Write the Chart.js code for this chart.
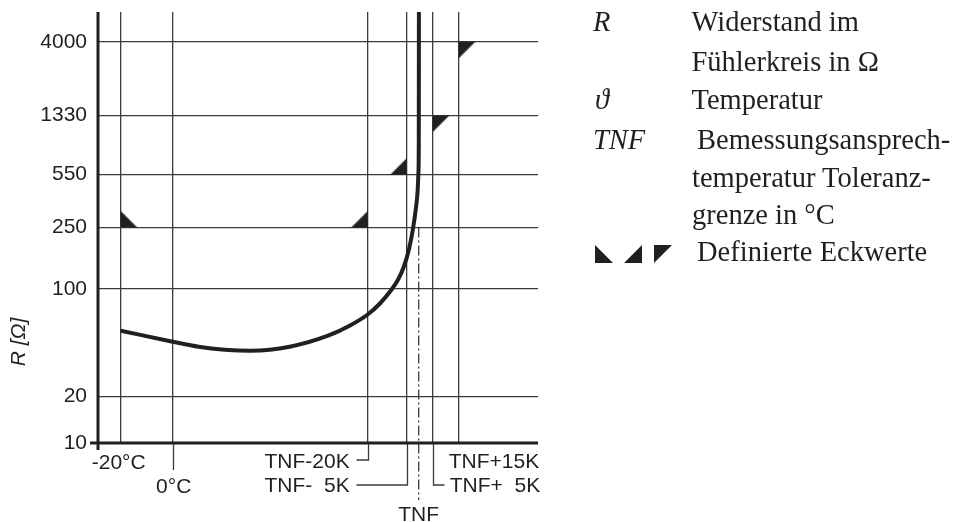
<!DOCTYPE html>
<html>
<head>
<meta charset="utf-8">
<script src="https://cdn.jsdelivr.net/npm/chart.js@4.4.1/dist/chart.umd.min.js"></script>
<style>
  html, body { margin: 0; padding: 0; background: #fff; }
  #wrap { position: relative; width: 953px; height: 522px; overflow: hidden; }
  #chart { position: absolute; left: 0; top: 0; }
  .lg { position: absolute; font-family: 'Liberation Serif', 'Times New Roman', serif; font-size: 28.5px; line-height: 28.5px; color: #231f20; white-space: pre; }
  .it { font-style: italic; }
  .tri { position: absolute; width: 18px; height: 18px; background: #231f20; }
</style>
</head>
<body>
<div id="wrap">
  <canvas id="chart" width="953" height="522"></canvas>
</div>
<script>
// rated response temperature (schematic, in °C)
const TNF = 95;

const xTickValues = [-20, 0, TNF - 20, TNF - 5, TNF, TNF + 5, TNF + 15];
const xTickLabels = ['-20°C', '0°C', 'TNF-20K', 'TNF-  5K', 'TNF', 'TNF+  5K', 'TNF+15K'];
const yTickValues = [10, 20, 100, 250, 550, 1330, 4000];

// characteristic curve
const curveTemp = [-20, 0, 10, 20, 30, 45, 60, 68.2, 75, 79.7, 83.6, 86.7, 89.0, 90.9, 92.4, 93.6, 94.2, 94.5, 94.65, 94.7];
const curveR    = [53.5, 45.4, 42.1, 40.3, 39.7, 42.1, 49.8, 57.8, 68.1, 80.3, 96, 114.9, 140.6, 181.2, 244.2, 339.3, 430, 560, 900, 7000];

// defined corner values
const cornerTemp = [-20, TNF - 20, TNF - 5, TNF + 5, TNF + 15];
const cornerR    = [250, 250, 550, 1330, 4000];
const cornerDir  = ['upRight', 'upLeft', 'upLeft', 'downRight', 'downRight'];

const ink = '#231f20';
const gridInk = '#3a3a3a';
const sans = "'Liberation Sans', Arial, sans-serif";

function makeCorner(dir) {
  const s = 16.5, c = document.createElement('canvas');
  c.width = c.height = 34;
  const g = c.getContext('2d');
  g.fillStyle = ink;
  g.beginPath();
  g.moveTo(17, 17);
  if (dir === 'upRight') { g.lineTo(17, 17 - s); g.lineTo(17 + s, 17); }
  else if (dir === 'upLeft') { g.lineTo(17, 17 - s); g.lineTo(17 - s, 17); }
  else { g.lineTo(17 + s, 17); g.lineTo(17, 17 + s); }
  g.closePath();
  g.fill();
  return c;
}

// where each x label sits below the axis
const xLabelLayout = [
  { drop: 0,  align: 'center', dx: -2, base: 469 },
  { drop: 27, align: 'center', dx: 1,  base: 493 },
  { drop: 17, align: 'right',  dx: -18, base: 468, leader: -12 },
  { drop: 42, align: 'right',  dx: -57, base: 492, leader: -51 },
  { drop: 0,  align: 'center', dx: -1, base: 521 },
  { drop: 42, align: 'left',   dx: 17, base: 492, leader: 11 },
  { drop: 0,  align: 'left',   dx: -10, base: 468 }
];

const sketchPlugin = {
  id: 'sketch',
  afterDraw(chart) {
    const { ctx, chartArea: a, scales: { x, y } } = chart;
    ctx.save();

    // leaders below the axis
    ctx.strokeStyle = gridInk;
    ctx.lineWidth = 1.3;
    xTickValues.forEach((v, i) => {
      const L = xLabelLayout[i];
      const px = Math.round(x.getPixelForValue(v)) + 0.5;
      if (L.drop) {
        ctx.beginPath();
        ctx.moveTo(px, a.bottom);
        ctx.lineTo(px, a.bottom + L.drop);
        if (L.leader) ctx.lineTo(px + L.leader, a.bottom + L.drop);
        ctx.stroke();
      }
    });

    // TNF dash-dot marker
    const pt = x.getPixelForValue(TNF) - 1;
    ctx.setLineDash([10, 3, 2, 3]);
    ctx.beginPath();
    ctx.moveTo(pt, y.getPixelForValue(250));
    ctx.lineTo(pt, 500);
    ctx.stroke();
    ctx.setLineDash([]);

    // axes
    ctx.strokeStyle = ink;
    ctx.lineWidth = 3;
    ctx.beginPath();
    ctx.moveTo(a.left, a.top);
    ctx.lineTo(a.left, a.bottom + 7);
    ctx.moveTo(a.left - 8, a.bottom);
    ctx.lineTo(a.right, a.bottom);
    ctx.stroke();

    // x labels
    ctx.fillStyle = ink;
    ctx.font = '21px ' + sans;
    ctx.textBaseline = 'alphabetic';
    xTickValues.forEach((v, i) => {
      const L = xLabelLayout[i];
      ctx.textAlign = L.align;
      const px = x.getPixelForValue(v);
      ctx.fillText(xTickLabels[i], px + L.dx, L.base);
    });

    // y title
    ctx.translate(19, 342);
    ctx.rotate(-Math.PI / 2);
    ctx.textAlign = 'center';
    ctx.textBaseline = 'middle';
    ctx.font = 'italic 21px ' + sans;
    ctx.fillText('R [Ω]', 0, 0);
    ctx.restore();
  }
};

new Chart(document.getElementById('chart'), {
  type: 'line',
  data: {
    datasets: [
      {
        data: curveTemp.map((t, i) => ({ x: t, y: curveR[i] })),
        borderColor: ink,
        borderWidth: 4,
        borderJoinStyle: 'round',
        pointRadius: 0,
        cubicInterpolationMode: 'monotone',
        fill: false
      },
      {
        type: 'scatter',
        data: cornerTemp.map((t, i) => ({ x: t, y: cornerR[i] })),
        pointStyle: cornerDir.map(makeCorner),
        pointRadius: 10,
        showLine: false
      }
    ]
  },
  options: {
    responsive: false,
    animation: false,
    devicePixelRatio: 1,
    events: [],
    layout: { padding: { left: 0, top: 12, right: 415, bottom: 0 } },
    plugins: { legend: { display: false }, tooltip: { enabled: false } },
    scales: {
      x: {
        type: 'linear',
        min: -28.73,
        max: 140.5,
        afterBuildTicks: s => { s.ticks = xTickValues.map(v => ({ value: v })); },
        afterFit: s => { s.height = 79; s.paddingLeft = 0; s.paddingRight = 0; },
        ticks: { display: false },
        grid: {
          color: c => (c.tick && c.tick.value === TNF) ? 'rgba(0,0,0,0)' : gridInk,
          lineWidth: 1.3,
          drawTicks: false
        },
        border: { display: false }
      },
      y: {
        type: 'logarithmic',
        min: 10,
        max: 6240,
        afterBuildTicks: s => { s.ticks = yTickValues.map(v => ({ value: v })); },
        afterFit: s => { s.width = 98; s.paddingTop = 0; s.paddingBottom = 0; },
        ticks: {
          callback: v => String(v),
          autoSkip: false,
          padding: 11,
          color: ink,
          font: { family: sans, size: 21 }
        },
        grid: { color: gridInk, lineWidth: 1.3, drawTicks: false },
        border: { display: false }
      }
    }
  },
  plugins: [sketchPlugin]
});

// explanation block on the right
const legendSymbols = [['R', 31.7], ['ϑ', 110], ['TNF', 150]];
const legendLines = [
  ['Widerstand im', 31.7, 691.5],
  ['Fühlerkreis in Ω', 71.7, 691.5],
  ['Temperatur', 110, 691.5],
  ['Bemessungsansprech-', 150, 697],
  ['temperatur Toleranz-', 188, 692],
  ['grenze in °C', 225, 692],
  ['Definierte Eckwerte', 262, 697]
];
const wrap = document.getElementById('wrap');
function addText(txt, left, baseline, italic) {
  const d = document.createElement('div');
  d.className = 'lg' + (italic ? ' it' : '');
  d.textContent = txt;
  d.style.left = left + 'px';
  d.style.top = (baseline - 24) + 'px';
  wrap.appendChild(d);
}
legendSymbols.forEach(([t, b]) => addText(t, t === 'ϑ' ? 595 : 593, b, true));
legendLines.forEach(([t, b, l]) => addText(t, l, b, false));
const triClips = [
  'polygon(0 0, 0 100%, 100% 100%)',
  'polygon(100% 0, 100% 100%, 0 100%)',
  'polygon(0 0, 100% 0, 0 100%)'
];
[595, 624, 654].forEach((left, i) => {
  const t = document.createElement('div');
  t.className = 'tri';
  t.style.left = left + 'px';
  t.style.top = '245px';
  t.style.clipPath = triClips[i];
  wrap.appendChild(t);
});
</script>
</body>
</html>
